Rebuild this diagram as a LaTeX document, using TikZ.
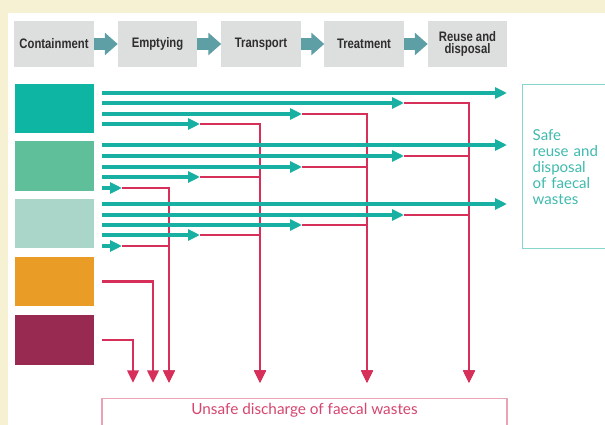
\documentclass[tikz,border=0pt]{standalone}
\usepackage{fontspec}
\setmainfont{Lato}
\newfontfamily\headfont[FakeStretch=0.82]{Liberation Sans}
\usepackage{xcolor}
\usepackage{tikz}
\usetikzlibrary{positioning, arrows.meta, calc}

\definecolor{cream}{HTML}{F6F1D2}
\definecolor{headgray}{HTML}{DDDFDE}
\definecolor{steel}{HTML}{5E9EA5}
\definecolor{flowteal}{HTML}{17B0A2}
\definecolor{tealbox}{HTML}{0DB5A2}
\definecolor{greenbox}{HTML}{5FBF9B}
\definecolor{palebox}{HTML}{AAD6C9}
\definecolor{orangebox}{HTML}{E99D26}
\definecolor{maroonbox}{HTML}{982A52}
\definecolor{flowred}{HTML}{D62F5A}
\definecolor{safeline}{HTML}{86D6CE}
\definecolor{safetext}{HTML}{3FBAAE}
\definecolor{unsafeline}{HTML}{EAA3B5}
\definecolor{unsafetext}{HTML}{D5466F}

\tikzset{
  stage/.style={fill=headgray, minimum width=1.975cm, minimum height=1.15cm, inner sep=0pt,
    align=center, text=black!82, font=\headfont\bfseries\fontsize{9.8}{8.4}\selectfont},
  stagearrow/.style={steel, line width=8.5pt, -{Triangle[length=9.2pt, width=15.6pt]}},
  catbox/.style={minimum width=1.975cm, minimum height=1.225cm, inner sep=0pt},
  safeflow/.style={flowteal, line width=2.3pt, -{Triangle[length=8.5pt, width=7.8pt]}},
  drain/.style={flowred, line width=2.1pt, -{Triangle[length=9pt, width=8pt]}, shorten >=10.7pt},
  safebox/.style={draw=safeline, line width=1pt, text=safetext, align=left, text width=1.9cm,
    inner xsep=0.25cm, minimum height=4.1cm, font=\fontsize{10.7}{11.4}\selectfont},
  unsafebox/.style={draw=unsafeline, line width=1pt, text=unsafetext, minimum width=10.125cm,
    inner ysep=0pt, text height=0.4cm, text depth=0.55cm, font=\fontsize{10.9}{12}\selectfont}
}

\begin{document}
\begin{tikzpicture}[x=0.025cm, y=-0.025cm]
    % background and frame
    \fill[cream] (0,0) rectangle (605,425);
    \fill[white] (8,13) rectangle (605,425);
    \useasboundingbox (0,0) rectangle (605,425);

    % sanitation chain
    \node[stage] (contain) at (54,44) {Containment};
    \node[stage] (empty) at (157.5,44) {Emptying};
    \node[stage] (transport) at (261,44) {Transport};
    \node[stage] (treat) at (364,44) {Treatment};
    \node[stage] (reuse) at (467.5,44) {Reuse and\\disposal};
    \draw[stagearrow] (contain) -- (empty);
    \draw[stagearrow] (empty) -- (transport);
    \draw[stagearrow] (transport) -- (treat);
    \draw[stagearrow] (treat) -- (reuse);

    % containment categories
    \node[catbox, fill=tealbox] (tealcat) at (54.5,108.5) {};
    \node[catbox, fill=greenbox] (greencat) at (54.5,166) {};
    \node[catbox, fill=palebox] (palecat) at (54.5,223.5) {};
    \node[catbox, fill=orangebox] (orangecat) at (54.5,281.5) {};
    \node[catbox, fill=maroonbox] (marooncat) at (54.5,340) {};

    % outcomes
    \node[safebox, anchor=north west] (safe) at (522,84) {Safe\\reuse and\\disposal\\of faecal\\wastes};
    \node[unsafebox, anchor=north] (unsafe) at (304.5,398) {Unsafe discharge of faecal wastes};

    % where each flow stops and drops out
    \coordinate (stop1) at (122,0);
    \coordinate (stop2) at (200,0);
    \coordinate (stop3) at (302,0);
    \coordinate (stop4) at (404,0);
    \coordinate (stop5) at (507,0);
    \coordinate (drain1) at (169,0);
    \coordinate (drain2) at (260,0);
    \coordinate (drain3) at (367,0);
    \coordinate (drain4) at (469,0);
    \coordinate (drainO) at (153,0);
    \coordinate (drainM) at (133,0);

    \draw[drain] ([xshift=0.2cm]orangecat.east) -| (drainO |- unsafe.north);
    \draw[drain] ([xshift=0.2cm]marooncat.east) -| (drainM |- unsafe.north);

    \foreach \y/\s in {93/5,103/4,114/3,124/2,145/5,156/4,167/3,177/2,188/1,204/5,215/4,225/3,235/2,246/1} {
      \coordinate (row) at (102,\y);
      \coordinate (tip) at (stop\s |- row);
      \ifnum\s<5 \draw[drain] (tip) -| (drain\s |- unsafe.north); \fi
    }
    \foreach \y/\s in {93/5,103/4,114/3,124/2,145/5,156/4,167/3,177/2,188/1,204/5,215/4,225/3,235/2,246/1} {
      \coordinate (row) at (102,\y);
      \draw[safeflow] (row) -- (stop\s |- row);
    }
\end{tikzpicture}
\end{document}
